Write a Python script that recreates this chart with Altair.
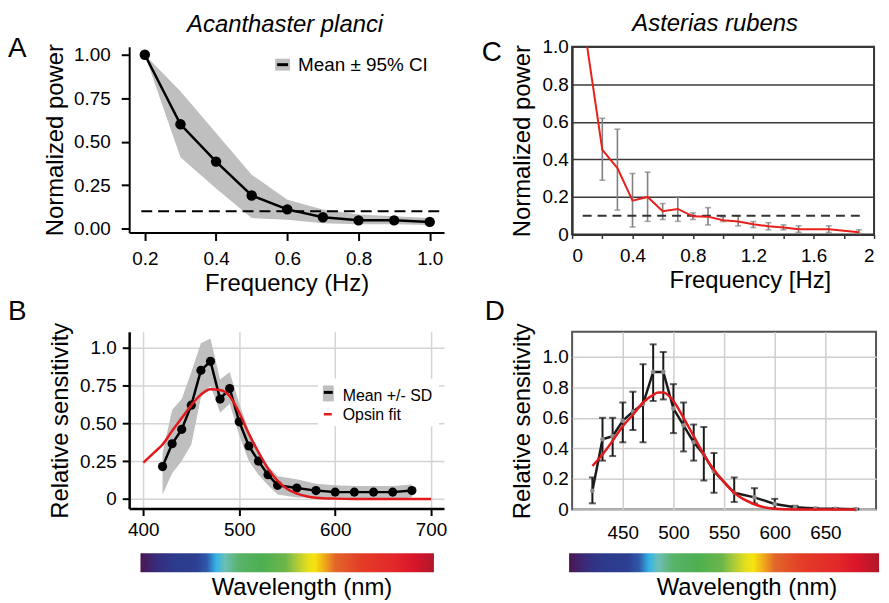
import altair as alt
import pandas as pd

FONT = "Liberation Sans"
RED = "#e31a1c"
BAND = "#bfbfbf"
LBL = 19
TTL = 24

# ---------------- Panel A : Acanthaster planci ----------------
A_freq = [0.2, 0.3, 0.4, 0.5, 0.6, 0.7, 0.8, 0.9, 1.0]
A_mean = [1.00, 0.60, 0.385, 0.19, 0.11, 0.065, 0.047, 0.047, 0.038]
A_lo = [1.00, 0.41, 0.23, 0.06, 0.05, 0.03, 0.025, 0.025, 0.02]
A_hi = [1.00, 0.79, 0.55, 0.31, 0.165, 0.11, 0.08, 0.07, 0.06]
A_thr = 0.1
A_thr_range = [0.19, 1.04]
A_xticks = [0.2, 0.4, 0.6, 0.8, 1.0]
A_yticks = [0.0, 0.25, 0.5, 0.75, 1.0]

# ---------------- Panel B : spectral sensitivity ----------------
B_wl = [420, 430, 440, 450, 460, 470, 480, 490, 500, 510, 520, 530, 540, 560, 580, 600, 620, 640, 660, 680]
B_mean = [0.214, 0.365, 0.46, 0.62, 0.85, 0.91, 0.66, 0.73, 0.51, 0.35, 0.25, 0.16, 0.09, 0.072, 0.055, 0.045, 0.045, 0.045, 0.045, 0.055]
B_lo = [0.03, 0.17, 0.25, 0.36, 0.67, 0.75, 0.57, 0.63, 0.42, 0.25, 0.16, 0.09, 0.03, 0.01, 0.01, 0.0, 0.0, 0.0, 0.0, 0.01]
B_hi = [0.30, 0.59, 0.66, 0.84, 1.03, 1.06, 0.79, 0.84, 0.63, 0.45, 0.32, 0.22, 0.15, 0.13, 0.10, 0.09, 0.085, 0.085, 0.085, 0.095]
B_fit_wl = [400, 410, 420, 430, 440, 450, 460, 470, 480, 490, 500, 510, 520, 530, 540, 550, 560, 570, 580, 600, 620, 650, 700]
B_fit = [0.24, 0.30, 0.36, 0.45, 0.535, 0.62, 0.69, 0.726, 0.72, 0.68, 0.57, 0.43, 0.31, 0.20, 0.12, 0.066, 0.035, 0.018, 0.008, 0.002, 0.0, 0.0, 0.0]
B_xticks = [400, 500, 600, 700]
B_yticks = [0.0, 0.25, 0.5, 0.75, 1.0]

# ---------------- Panel C : Asterias rubens ----------------
C_freq = [0.1, 0.2, 0.3, 0.4, 0.5, 0.6, 0.7, 0.8, 0.9, 1.0, 1.1, 1.2, 1.3, 1.4, 1.5, 1.6, 1.7, 1.8, 1.9]
C_mean = [1.0, 0.451, 0.354, 0.18, 0.20, 0.124, 0.136, 0.097, 0.095, 0.076, 0.069, 0.055, 0.044, 0.037, 0.028, 0.028, 0.028, 0.02, 0.012]
C_err_freq = [0.2, 0.3, 0.4, 0.5, 0.6, 0.7, 0.8, 0.9, 1.0, 1.1, 1.2, 1.3, 1.4, 1.5, 1.7, 1.9]
C_err_lo = [0.289, 0.13, 0.04, 0.07, 0.08, 0.07, 0.08, 0.051, 0.069, 0.046, 0.037, 0.025, 0.025, 0.011, 0.011, 0.005]
C_err_hi = [0.619, 0.561, 0.325, 0.332, 0.165, 0.20, 0.115, 0.143, 0.094, 0.099, 0.069, 0.063, 0.051, 0.046, 0.046, 0.025]
C_thr = 0.1
C_thr_range = [0.07, 1.91]
C_xticks = [0.0, 0.2, 0.4, 0.6, 0.8, 1.0, 1.2, 1.4, 1.6, 1.8, 2.0]
C_yticks = [0.0, 0.2, 0.4, 0.6, 0.8, 1.0]

# ---------------- Panel D : spectral sensitivity ----------------
D_wl = [420, 430, 440, 450, 460, 470, 480, 490, 500, 510, 520, 530, 540, 560, 580, 600, 620, 640, 660, 680]
D_mean = [0.123, 0.46, 0.48, 0.58, 0.64, 0.69, 0.90, 0.90, 0.66, 0.55, 0.44, 0.36, 0.25, 0.11, 0.08, 0.037, 0.015, 0.007, 0.005, 0.003]
D_lo = [0.041, 0.32, 0.35, 0.44, 0.52, 0.44, 0.71, 0.72, 0.50, 0.38, 0.32, 0.19, 0.11, 0.05, 0.04, 0.005, 0.005, 0.002, 0.001, 0.001]
D_hi = [0.21, 0.60, 0.60, 0.70, 0.77, 0.95, 1.08, 1.03, 0.82, 0.70, 0.556, 0.54, 0.37, 0.21, 0.14, 0.07, 0.025, 0.012, 0.009, 0.006]
D_fit_wl = [420, 430, 440, 450, 460, 470, 480, 485, 490, 500, 510, 520, 530, 540, 550, 560, 580, 600, 620, 680]
D_fit = [0.285, 0.36, 0.45, 0.545, 0.62, 0.70, 0.75, 0.765, 0.765, 0.71, 0.60, 0.48, 0.36, 0.26, 0.18, 0.11, 0.035, 0.005, 0.0, 0.0]
D_xticks = [450, 500, 550, 600, 650]
D_yticks = [0.0, 0.2, 0.4, 0.6, 0.8, 1.0]

# ---------------- colour bar (visible spectrum) ----------------
CB_range = [397, 703]
CB_nm = [397, 412, 430, 455, 466, 476, 485, 499, 523, 548, 558, 572, 579, 589, 600, 627, 662, 682, 703]
CB_col = ["#4b1650", "#3a2a7a", "#2d3a8a", "#2c3f92", "#2f58a8", "#34b4e6", "#6cbfb5",
          "#5ab36b", "#4caf50", "#6bb64a", "#a3c83d", "#e8df1c", "#f6e40f", "#f0a81c",
          "#e2662a", "#e33d27", "#e3272a", "#d9152a", "#b0182a"]


# ---------------- helpers ----------------
def one():
    return pd.DataFrame({"k": [0]})


def txt(text, x, y, size, italic=False, align="left", color="black"):
    return alt.Chart(pd.DataFrame({"t": [text]})).mark_text(
        align=align, baseline="alphabetic", fontSize=size, font=FONT,
        fontStyle="italic" if italic else "normal", color=color
    ).encode(x=alt.value(x), y=alt.value(y), text="t:N")


def box(x, x2, y, y2, color):
    return alt.Chart(one()).mark_rect(color=color).encode(
        x=alt.value(x), x2=alt.value(x2), y=alt.value(y), y2=alt.value(y2))


def dash(x, x2, y, color, width):
    return alt.Chart(one()).mark_rule(color=color, strokeWidth=width).encode(
        x=alt.value(x), x2=alt.value(x2), y=alt.value(y))


def colorbar(scale, axis):
    lo, hi = CB_range
    stops = [alt.GradientStop(offset=(n - lo) / (hi - lo), color=c) for n, c in zip(CB_nm, CB_col)]
    grad = alt.LinearGradient(gradient="linear", stops=stops, x1=0, x2=1, y1=0, y2=0)
    return alt.Chart(pd.DataFrame({"a": [lo], "b": [hi]})).mark_rect(fill=grad).encode(
        x=alt.X("a:Q", scale=scale, axis=axis), x2="b:Q",
        y=alt.value(223), y2=alt.value(242))


def axis(**kw):
    base = dict(labelFont=FONT, titleFont=FONT, labelFontSize=LBL, titleFontSize=TTL,
                titleFontWeight="normal", labelColor="black", titleColor="black")
    base.update(kw)
    return alt.Axis(**base)


# ================= Panel A =================
xA = alt.Scale(domain=[0.156, 1.04], nice=False, zero=False)
yA = alt.Scale(domain=[-0.023, 1.046], nice=False, zero=False)
axAx = axis(values=A_xticks, format=".1f", grid=False, title="Frequency (Hz)",
            domainColor="black", domainWidth=2, tickColor="black", tickWidth=2,
            tickSize=8, labelPadding=9, titlePadding=3)
axAy = axis(values=A_yticks, format=".2f", grid=False, title="Normalized power",
            domainColor="black", domainWidth=2, tickColor="black", tickWidth=2,
            tickSize=8, labelPadding=11, titlePadding=6)
dfA = pd.DataFrame({"f": A_freq, "m": A_mean, "lo": A_lo, "hi": A_hi})
XA = alt.X("f:Q", scale=xA, axis=axAx)
bandA = alt.Chart(dfA).mark_area(color=BAND, opacity=1).encode(
    x=XA, y=alt.Y("lo:Q", scale=yA, axis=axAy), y2="hi:Q")
thrA = alt.Chart(pd.DataFrame({"a": [A_thr_range[0]], "b": [A_thr_range[1]], "v": [A_thr]})).mark_rule(
    color="black", strokeWidth=2, strokeDash=[11, 6]).encode(
    x=alt.X("a:Q", scale=xA, axis=axAx), x2="b:Q", y=alt.Y("v:Q", scale=yA, axis=axAy))
lineA = alt.Chart(dfA).mark_line(color="black", strokeWidth=2.5).encode(
    x=XA, y=alt.Y("m:Q", scale=yA, axis=axAy))
ptsA = alt.Chart(dfA).mark_circle(color="black", size=110, opacity=1).encode(
    x=XA, y=alt.Y("m:Q", scale=yA, axis=axAy))
panelA = alt.layer(
    bandA, thrA, lineA, ptsA,
    box(147, 162, 12, 24, BAND), dash(149, 160, 18, "black", 3),
    txt("Mean \u00b1 95% CI", 170, 24, 19),
    txt("Acanthaster planci", 157, -15, 24, italic=True, align="center"),
    txt("A", -122, 10, 28),
).properties(width=317, height=187)

# ================= Panel B =================
xB = alt.Scale(domain=[385.2, 713.5], nice=False, zero=False)
yB = alt.Scale(domain=[-0.064, 1.105], nice=False, zero=False)
axBx = axis(values=B_xticks, format="d", grid=True, gridColor="#d4d4d4", gridWidth=1.5,
            title=None, domainColor="black", domainWidth=2.5, tickColor="black",
            tickWidth=2, tickSize=7, labelPadding=5)
axBy = axis(values=B_yticks, grid=True, gridColor="#d4d4d4", gridWidth=1.5,
            labelExpr="datum.value == 0 ? '0' : datum.value == 1 ? '1.0' : format(datum.value, '.2f')",
            title="Relative sensitivity", domainColor="black", domainWidth=2.5,
            tickColor="black", tickWidth=2, tickSize=7, labelPadding=6, titlePadding=7)
dfB = pd.DataFrame({"w": B_wl, "m": B_mean, "lo": B_lo, "hi": B_hi})
dfBf = pd.DataFrame({"w": B_fit_wl, "v": B_fit})
XB = alt.X("w:Q", scale=xB, axis=axBx)
bandB = alt.Chart(dfB).mark_area(color=BAND, opacity=1).encode(
    x=XB, y=alt.Y("lo:Q", scale=yB, axis=axBy), y2="hi:Q")
lineB = alt.Chart(dfB).mark_line(color="black", strokeWidth=2.5).encode(
    x=XB, y=alt.Y("m:Q", scale=yB, axis=axBy))
ptsB = alt.Chart(dfB).mark_circle(color="black", size=85, opacity=1).encode(
    x=XB, y=alt.Y("m:Q", scale=yB, axis=axBy))
fitB = alt.Chart(dfBf).mark_line(color=RED, strokeWidth=2.5, interpolate="monotone").encode(
    x=XB, y=alt.Y("v:Q", scale=yB, axis=axBy))
panelB = alt.layer(
    bandB, lineB, ptsB, fitB,
    box(190, 312, 47, 95, "white"),
    box(195, 206, 54, 70, BAND), dash(196, 205, 61, "black", 3),
    txt("Mean +/- SD", 215, 70, 16),
    dash(196, 204, 83, RED, 2.5),
    txt("Opsin fit", 215, 89, 16),
    colorbar(xB, axBx),
    txt("Wavelength (nm)", 174, 265, TTL, align="center"),
    txt("B", -122, -12, 28),
).properties(width=317, height=178)

# ================= Panel C =================
xC = alt.Scale(domain=[0, 2], nice=False, zero=False)
yC = alt.Scale(domain=[0, 1], nice=False, zero=False)
axCx = axis(values=C_xticks, grid=False, title="Frequency [Hz]", titleX=179,
            labelExpr="(round(datum.value * 10) % 4 == 0) ? (datum.value == 0 ? '0' : datum.value == 2 ? '2' : format(datum.value, '.1f')) : ''",
            domainColor="#333333", domainWidth=2, tickColor="#333333", tickWidth=1.5,
            tickSize=4, labelPadding=8, titlePadding=3)
axCy = axis(values=C_yticks, grid=True, gridColor="#3a3a3a", gridWidth=1.5,
            labelExpr="datum.value == 0 ? '0' : format(datum.value, '.1f')",
            title="Normalized power", domainColor="#333333", domainWidth=2,
            ticks=False, labelPadding=4, titlePadding=8)
dfC = pd.DataFrame({"f": C_freq, "m": C_mean})
dfCe = pd.DataFrame({"f": C_err_freq, "lo": C_err_lo, "hi": C_err_hi})
XCe = alt.X("f:Q", scale=xC, axis=axCx)
errC = alt.Chart(dfCe).mark_rule(color="#808080", strokeWidth=1.6).encode(
    x=XCe, y=alt.Y("lo:Q", scale=yC, axis=axCy), y2="hi:Q")
capCl = alt.Chart(dfCe).mark_tick(color="#808080", orient="horizontal", size=6, thickness=1.6).encode(
    x=XCe, y=alt.Y("lo:Q", scale=yC, axis=axCy))
capCh = alt.Chart(dfCe).mark_tick(color="#808080", orient="horizontal", size=6, thickness=1.6).encode(
    x=XCe, y=alt.Y("hi:Q", scale=yC, axis=axCy))
thrC = alt.Chart(pd.DataFrame({"a": [C_thr_range[0]], "b": [C_thr_range[1]], "v": [C_thr]})).mark_rule(
    color="#333333", strokeWidth=2, strokeDash=[9, 6]).encode(
    x=alt.X("a:Q", scale=xC, axis=axCx), x2="b:Q", y=alt.Y("v:Q", scale=yC, axis=axCy))
lineC = alt.Chart(dfC).mark_line(color="#e8201c", strokeWidth=2).encode(
    x=alt.X("f:Q", scale=xC, axis=axCx), y=alt.Y("m:Q", scale=yC, axis=axCy))
panelC = alt.layer(
    errC, capCl, capCh, thrC, lineC,
    txt("Asterias rubens", 144, -16, 24, italic=True, align="center"),
    txt("C", -91, 14, 28),
).properties(width=304, height=189,
             view=alt.ViewBackground(stroke="#333333", strokeWidth=2))

# ================= Panel D =================
xD = alt.Scale(domain=[400, 700], nice=False, zero=False)
yD = alt.Scale(domain=[0, 1.162], nice=False, zero=False)
axDx = axis(values=D_xticks, format="d", grid=True, gridColor="#cfcfcf", gridWidth=1.5,
            title=None, domain=False, ticks=False, labelPadding=14)
axDy = axis(values=D_yticks, grid=True, gridColor="#cfcfcf", gridWidth=1.5,
            labelExpr="datum.value == 0 ? '0' : format(datum.value, '.1f')",
            title="Relative sensitivity", domain=False, ticks=False,
            labelPadding=4, titlePadding=8)
dfD = pd.DataFrame({"w": D_wl, "m": D_mean, "lo": D_lo, "hi": D_hi})
dfDf = pd.DataFrame({"w": D_fit_wl, "v": D_fit})
XD = alt.X("w:Q", scale=xD, axis=axDx)
errD = alt.Chart(dfD).mark_rule(color="#1a1a1a", strokeWidth=2).encode(
    x=XD, y=alt.Y("lo:Q", scale=yD, axis=axDy), y2="hi:Q")
capDl = alt.Chart(dfD).mark_tick(color="#1a1a1a", orient="horizontal", size=7, thickness=2).encode(
    x=XD, y=alt.Y("lo:Q", scale=yD, axis=axDy))
capDh = alt.Chart(dfD).mark_tick(color="#1a1a1a", orient="horizontal", size=7, thickness=2).encode(
    x=XD, y=alt.Y("hi:Q", scale=yD, axis=axDy))
lineD = alt.Chart(dfD).mark_line(color="#1a1a1a", strokeWidth=2.5).encode(
    x=XD, y=alt.Y("m:Q", scale=yD, axis=axDy))
ptsD = alt.Chart(dfD).mark_circle(color="#8c8c8c", size=22, opacity=1).encode(
    x=XD, y=alt.Y("m:Q", scale=yD, axis=axDy))
fitD = alt.Chart(dfDf).mark_line(color=RED, strokeWidth=2.5, interpolate="monotone").encode(
    x=XD, y=alt.Y("v:Q", scale=yD, axis=axDy))
panelD = alt.layer(
    errD, capDl, capDh, lineD, ptsD, fitD,
    colorbar(xD, axDx),
    txt("Wavelength (nm)", 176, 265, TTL, align="center"),
    txt("D", -88, -12, 28),
).properties(width=306, height=179,
             view=alt.ViewBackground(stroke="#555555", strokeWidth=2))

chart = alt.concat(
    panelA, panelC, panelB, panelD,
    columns=2, bounds="flush", spacing={"row": 98, "column": 129},
).properties(
    padding={"left": 0, "top": 1, "right": 0, "bottom": 0}
).configure(font=FONT).configure_axis(
    labelFont=FONT, titleFont=FONT, labelFontSize=LBL, titleFontSize=TTL,
    titleFontWeight="normal", labelColor="black", titleColor="black"
).configure_view(stroke=None)

chart.save("out.html", embed_options={"renderer": "svg", "actions": False})
